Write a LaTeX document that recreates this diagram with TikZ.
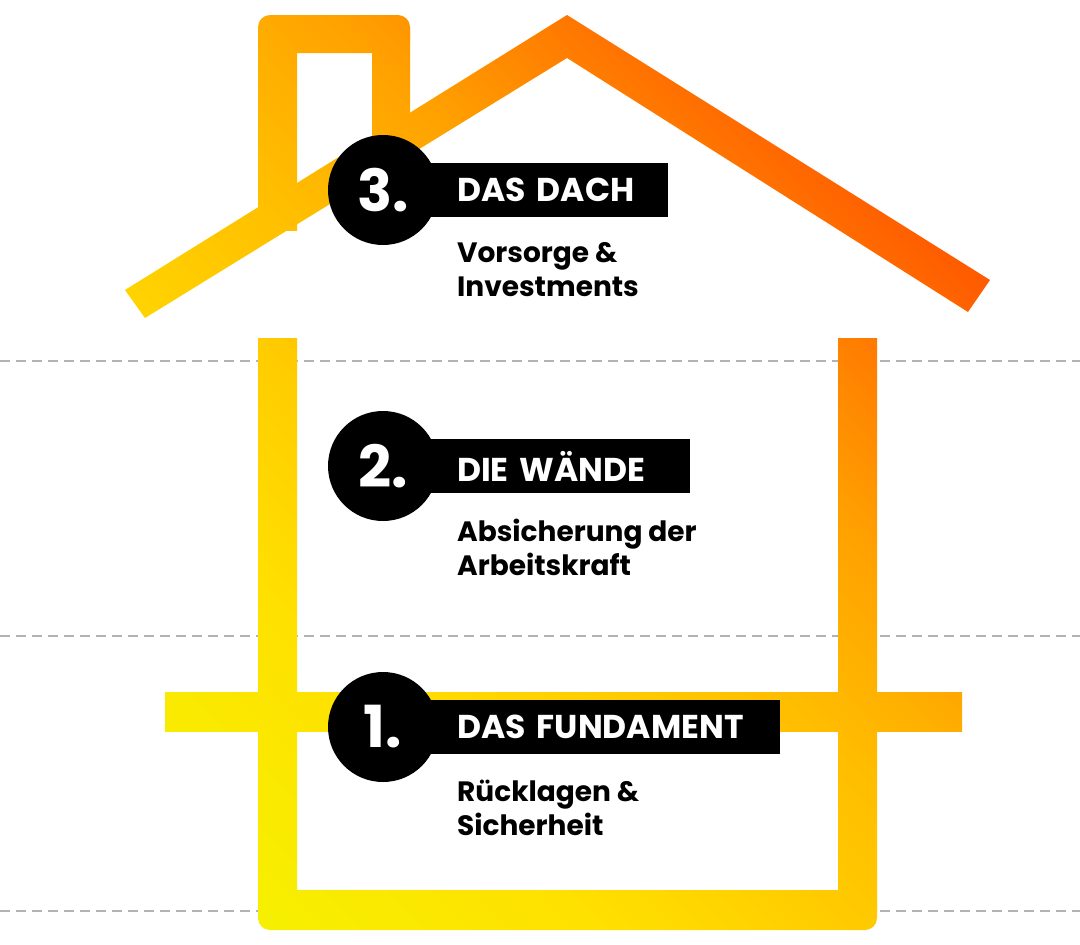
\documentclass[tikz,border=0pt]{standalone}
\usepackage{fontspec}
\setmainfont{Poppins}[BoldFont={* Bold}]
\definecolor{ca}{rgb}{0.93,1,0}
\definecolor{cb}{rgb}{1,0.88,0}
\definecolor{cc}{rgb}{1,0.74,0}
\definecolor{cd}{rgb}{1,0.63,0}
\definecolor{ce}{rgb}{1,0.32,0}
\definecolor{cf}{rgb}{1,0,0}
\pgfdeclarehorizontalshading{house}{100bp}{color(0bp)=(ca); color(13bp)=(ca); color(36bp)=(cb); color(51bp)=(cc); color(59bp)=(cd); color(74bp)=(ce); color(82bp)=(cf); color(100bp)=(cf)}
\newcommand{\housefill}{\shade[shading=house,shading angle=45] (0,0) rectangle (1080,945);}
\newcommand{\piece}[1]{\begin{scope}\clip #1;\housefill\end{scope}}
\begin{document}
\begin{tikzpicture}[x=1pt,y=-1pt,
  lab/.style={fill=black,text=white,font=\fontsize{33}{33}\selectfont\bfseries,anchor=west,minimum height=54pt,inner xsep=0pt,text width=#1,align=left},
  num/.style={circle,fill=black,text=white,minimum size=110pt,inner sep=0pt,font=\fontsize{58}{58}\selectfont\bfseries},
  sub/.style={anchor=north west,align=left,font=\fontsize{28}{34}\selectfont\bfseries,inner sep=0pt},
  guide/.style={gray!60,line width=2pt,dash pattern=on 10pt off 6pt}]
\useasboundingbox (0,0) rectangle (1080,945);
\draw[guide] (0,361) -- (1080,361);
\draw[guide] (0,636) -- (1080,636);
\draw[guide] (0,911) -- (1080,911);
\piece{(258,338) rectangle (297,910)}
\piece{(838,338) rectangle (877,910)}
\piece{[rounded corners=12pt] (258,890) rectangle (877,930)}
\piece{(165,692) rectangle (962,731)}
\piece{(125,290) -- (145,318) -- (567,58) -- (968,312) -- (990,280) -- (567,15) -- cycle}
\piece{[rounded corners=12pt] (258,15) rectangle (410,53)}
\piece{(258,30) rectangle (297,230)}
\piece{(372,30) rectangle (410,150)}
\node[lab=248pt] (l3) at (420,190) {\hspace*{37pt}DAS DACH};
\node[lab=270pt] (l2) at (420,466) {\hspace*{37pt}DIE WÄNDE};
\node[lab=360pt] (l1) at (420,727) {\hspace*{37pt}DAS FUNDAMENT};
\node[num] (n3) at (383,190) {3.};
\node[num] (n2) at (383,466) {2.};
\node[num] (n1) at (383,727) {1.};
\node[sub] (s3) at (457,242) {Vorsorge \&\\Investments};
\node[sub] (s2) at (457,519) {Absicherung der\\Arbeitskraft};
\node[sub] (s1) at (457,780) {Rücklagen \&\\Sicherheit};
\end{tikzpicture}
\end{document}
